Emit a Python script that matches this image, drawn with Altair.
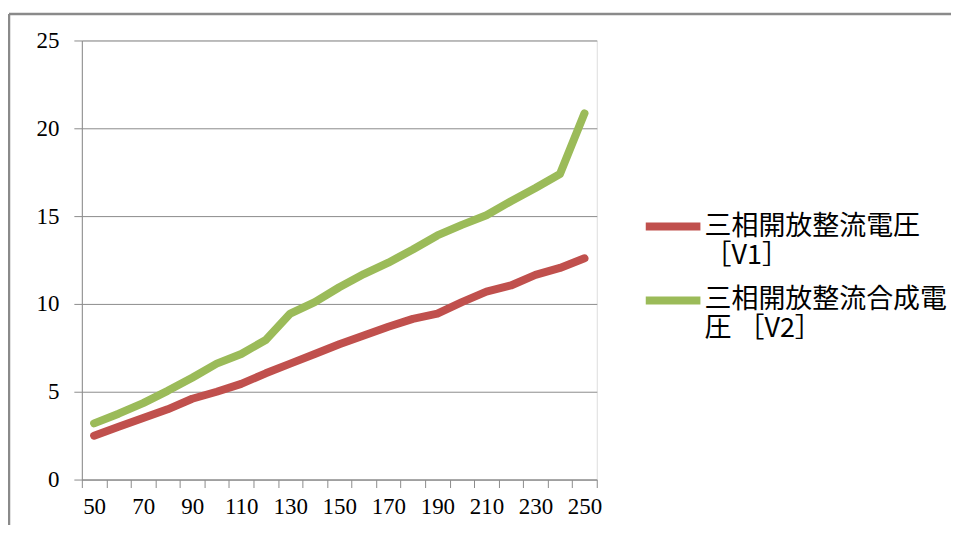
import altair as alt
import pandas as pd

x_vals = [50, 60, 70, 80, 90, 100, 110, 120, 130, 140, 150, 160, 170, 180, 190, 200, 210, 220, 230, 240, 250]
v1 = [2.5, 3.0, 3.5, 4.0, 4.6, 5.0, 5.45, 6.05, 6.6, 7.15, 7.7, 8.2, 8.7, 9.15, 9.45, 10.1, 10.7, 11.05, 11.65, 12.05, 12.6]
v2 = [3.2, 3.75, 4.35, 5.05, 5.8, 6.6, 7.15, 7.95, 9.45, 10.1, 10.95, 11.7, 12.35, 13.1, 13.9, 14.5, 15.05, 15.85, 16.6, 17.4, 20.85]
series_names = ["三相開放整流電圧［V1］", "三相開放整流合成電圧［V2］"]
legend_lines_1 = ["三相開放整流電圧", " ［V1］"]
legend_lines_2 = ["三相開放整流合成電", "圧 ［V2］"]
colors = ["#C0504D", "#9BBB59"]
y_ticks = [0, 5, 10, 15, 20, 25]

df = pd.DataFrame({
    "x": x_vals + x_vals,
    "y": v1 + v2,
    "series": [series_names[0]] * len(x_vals) + [series_names[1]] * len(x_vals),
})

grid_gray = "#8c8c8c"
num_font = "Liberation Serif"
cjk_font = "Noto Sans CJK JP"

def js_list(lst):
    return "[" + ",".join("'" + s + "'" for s in lst) + "]"

legend_expr = (
    f"datum.label == '{series_names[0]}' ? {js_list(legend_lines_1)} : {js_list(legend_lines_2)}"
)

lines = alt.Chart(df).mark_line(strokeWidth=8, strokeCap="round", strokeJoin="round").encode(
    x=alt.X(
        "x:O",
        sort=None,
        scale=alt.Scale(type="band", paddingInner=0, paddingOuter=0),
        axis=alt.Axis(
            title=None,
            labelAngle=0,
            tickBand="extent",
            labelExpr="datum.value % 20 == 10 ? datum.label : ''",
            labelFont=num_font,
            labelFontSize=23,
            labelColor="#000000",
            labelPadding=8,
            tickSize=8,
            tickColor=grid_gray,
            domainColor=grid_gray,
            grid=False,
            labelOverlap=False,
        ),
    ),
    y=alt.Y(
        "y:Q",
        scale=alt.Scale(domain=[0, 25], nice=False),
        axis=alt.Axis(
            title=None,
            values=y_ticks,
            labelFont=num_font,
            labelFontSize=23,
            labelColor="#000000",
            labelPadding=15,
            tickSize=8,
            tickColor=grid_gray,
            domainColor=grid_gray,
            gridColor=grid_gray,
            gridOpacity=1,
        ),
    ),
    color=alt.Color(
        "series:N",
        sort=series_names,
        scale=alt.Scale(domain=series_names, range=colors),
        legend=alt.Legend(
            title=None,
            orient="none",
            legendX=561,
            legendY=155,
            symbolType="M-1,0L1,0",
            symbolSize=3000,
            symbolStrokeWidth=8,
            labelExpr=legend_expr,
            labelFont=cjk_font,
            labelFontSize=27,
            labelColor="#000000",
            labelLimit=400,
            labelOffset=0,
            rowPadding=-9,
        ),
    ),
)

frame_df = pd.DataFrame({"k": [0]})
frame_top = alt.Chart(frame_df).mark_rule(color="#8a8a8a", strokeWidth=2.5).encode(
    x=alt.value(-73), x2=alt.value(900), y=alt.value(-26.5)
)
frame_left = alt.Chart(frame_df).mark_rule(color="#8a8a8a", strokeWidth=2.5).encode(
    x=alt.value(-73), y=alt.value(-26.5), y2=alt.value(600)
)

chart = alt.layer(frame_top, frame_left, lines).properties(
    width=516,
    height=440,
    autosize=alt.AutoSizeParams(type="none"),
    padding={"left": 74, "top": 32, "right": 355, "bottom": 45},
).configure_view(stroke=None).configure(background="#ffffff")

chart.save("out.html", embed_options={"renderer": "svg", "actions": False})
